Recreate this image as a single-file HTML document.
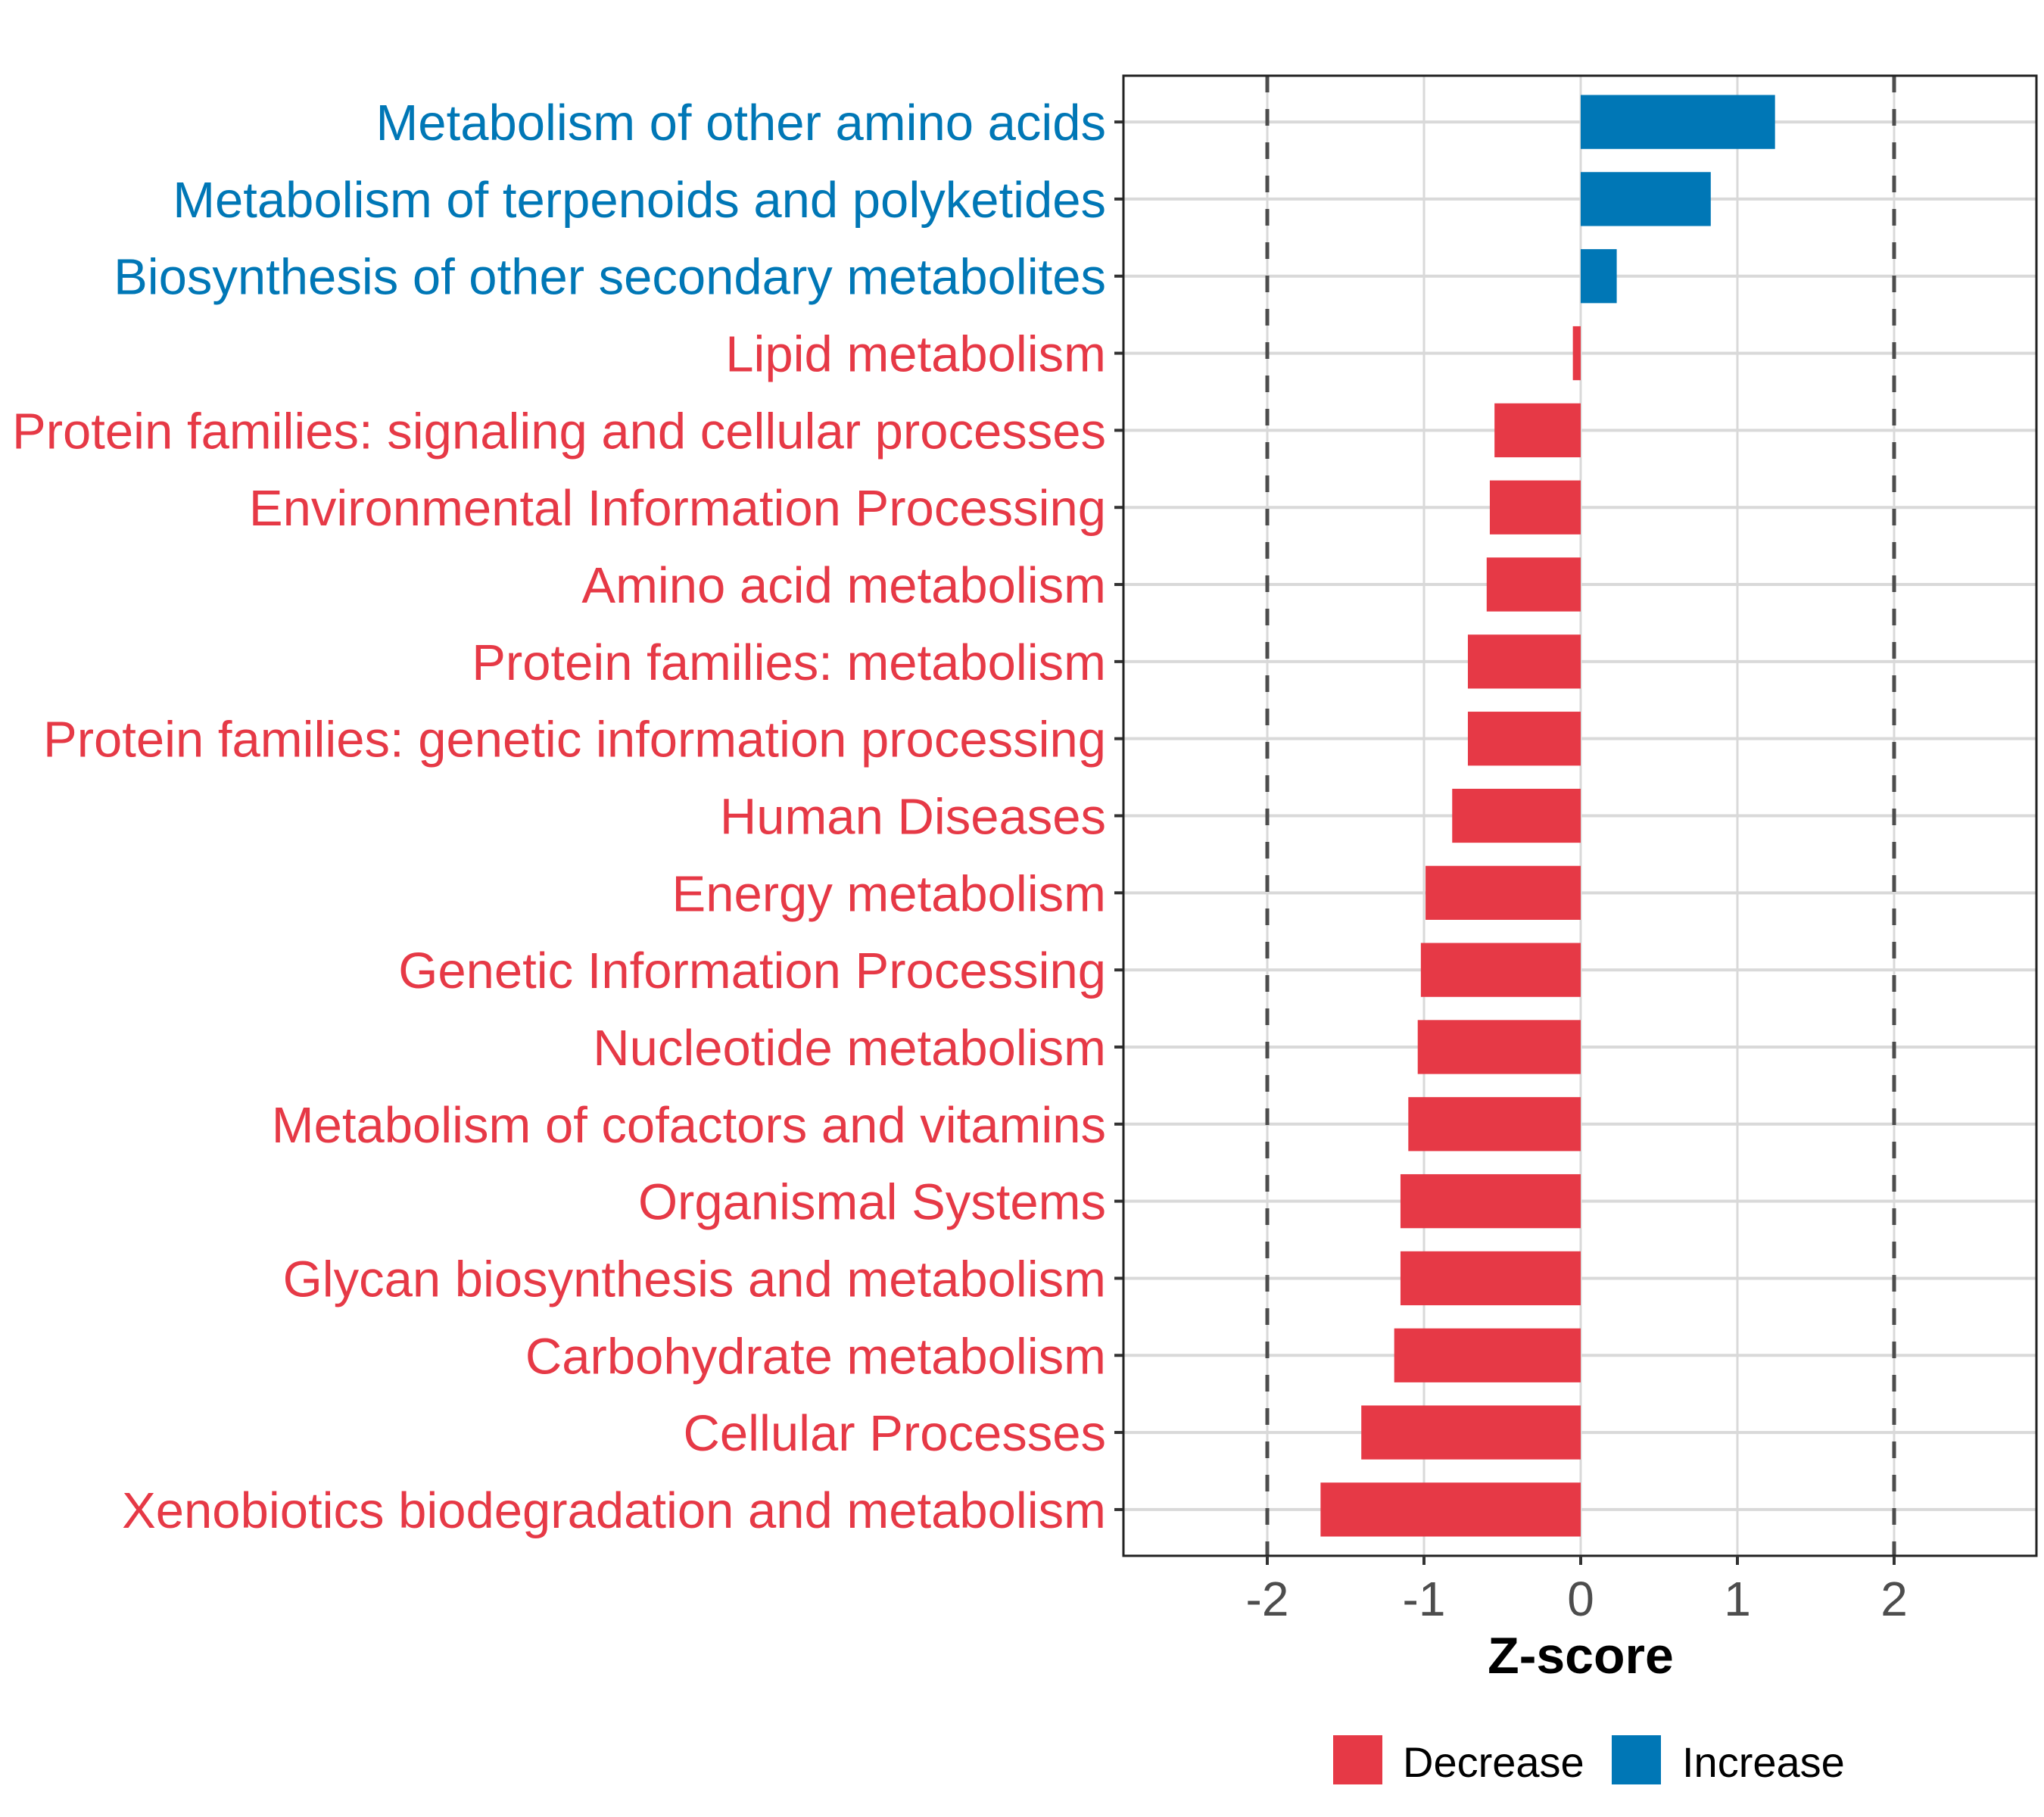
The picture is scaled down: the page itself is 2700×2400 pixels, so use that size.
<!DOCTYPE html>
<html><head><meta charset="utf-8"><style>
html,body{margin:0;padding:0;background:#fff;}
svg{display:block;font-family:"Liberation Sans",Arial,sans-serif;}
</style></head><body>
<svg id="chart" width="2700" height="2400" viewBox="0 0 2700 2400" xmlns="http://www.w3.org/2000/svg">
<rect x="0" y="0" width="2700" height="2400" fill="#fff"/>
<g id="grid"></g><g id="bars"></g><g id="ylabels"></g><g id="xaxis"></g>
<text x="2088" y="2210" font-size="68" font-weight="bold" text-anchor="middle" fill="#000">Z-score</text>
<g>
<rect x="1761" y="2292" width="65" height="65" fill="#E63946"/>
<text x="1853" y="2347" font-size="56" fill="#000">Decrease</text>
<rect x="2129" y="2292" width="65" height="65" fill="#0077B6"/>
<text x="2222" y="2347" font-size="56" fill="#000">Increase</text>
</g>
</svg>
<script>
const categories = ["Metabolism of other amino acids","Metabolism of terpenoids and polyketides","Biosynthesis of other secondary metabolites","Lipid metabolism","Protein families: signaling and cellular processes","Environmental Information Processing","Amino acid metabolism","Protein families: metabolism","Protein families: genetic information processing","Human Diseases","Energy metabolism","Genetic Information Processing","Nucleotide metabolism","Metabolism of cofactors and vitamins","Organismal Systems","Glycan biosynthesis and metabolism","Carbohydrate metabolism","Cellular Processes","Xenobiotics biodegradation and metabolism"];
const zscores = [1.24,0.83,0.23,-0.05,-0.55,-0.58,-0.60,-0.72,-0.72,-0.82,-0.99,-1.02,-1.04,-1.10,-1.15,-1.15,-1.19,-1.40,-1.66];
const xTicks = [-2,-1,0,1,2];
const thresholds = [-2,2];
const NS="http://www.w3.org/2000/svg";
const L=1484,R=2690,T=100,B=2055;
const xs=v=>2088+v*207;
const step=(B-T)/(categories.length+0.2);
const ys=i=>T+step*(0.6+i);
function mk(tag,attrs,parent){const e=document.createElementNS(NS,tag);for(const k in attrs)e.setAttribute(k,attrs[k]);parent.appendChild(e);return e;}
const grid=document.getElementById('grid'),bars=document.getElementById('bars'),yl=document.getElementById('ylabels'),xa=document.getElementById('xaxis');
xTicks.forEach(t=>{const l=mk('line',{x1:xs(t),x2:xs(t),y1:T,y2:B,stroke:'#d9d9d9','stroke-width':3},grid);

});
categories.forEach((c,i)=>{const l=mk('line',{x1:L,x2:R,y1:ys(i),y2:ys(i),stroke:'#d9d9d9','stroke-width':4},grid);

});
categories.forEach((c,i)=>{const v=zscores[i];const col=v>=0?'#0077B6':'#E63946';
const bh=step*0.7;
const r=mk('rect',{x:Math.min(xs(0),xs(v)),y:ys(i)-bh/2,width:Math.abs(xs(v)-xs(0)),height:bh,fill:col},bars);


const t=mk('text',{x:1461,y:ys(i)+24,'font-size':67,'text-anchor':'end',fill:col},yl);
t.textContent=c;


const tk=mk('line',{x1:L-12,x2:L,y1:ys(i),y2:ys(i),stroke:'#333','stroke-width':4},yl);

});
thresholds.forEach(t=>{const l=mk('line',{x1:xs(t),x2:xs(t),y1:T,y2:B,stroke:'#4d4d4d','stroke-width':5,'stroke-dasharray':'22 22'},bars);

});
const fr=mk('rect',{x:L,y:T,width:R-L,height:B-T,fill:'none',stroke:'#222','stroke-width':3},xa);


xTicks.forEach(t=>{const tk=mk('line',{x1:xs(t),x2:xs(t),y1:B,y2:B+12,stroke:'#333','stroke-width':4},xa);


const tx=mk('text',{x:xs(t),y:2134,'font-size':64,'text-anchor':'middle',fill:'#4d4d4d'},xa);
tx.textContent=String(t);

});
</script>
</body></html>
